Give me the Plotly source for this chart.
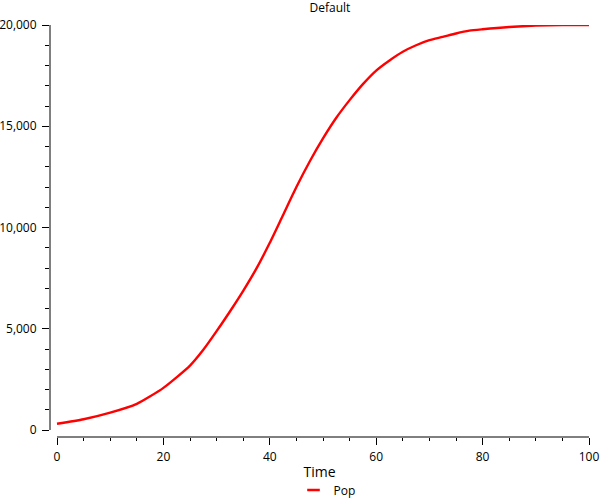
import plotly.graph_objects as go

time = [0, 5, 10, 15, 20, 25, 27.5, 30, 33, 35, 37.5, 40, 42.5, 45, 47.5, 50,
        52.5, 55, 57.5, 60, 62.5, 65, 67.5, 70, 72.5, 75, 77.5, 80, 85, 90, 95, 100]
pop = [310, 530, 855, 1290, 2080, 3180, 3960, 4880, 6050, 6870, 7980, 9245,
       10620, 12000, 13260, 14400, 15420, 16290, 17080, 17750, 18250, 18680,
       19000, 19250, 19410, 19580, 19720, 19790, 19900, 19970, 20000, 20000]

x_label_ticks = [0, 20, 40, 60, 80, 100]
y_ticks = [0, 5000, 10000, 15000, 20000]

FONT = "Open Sans"
W, H = 600, 500
ML, MR, MT, MB = 50, 11, 25, 63

# x range so that 0 sits 7px right of the plot's left edge
px_per_x = (W - ML - MR - 7) / 100.0
x_min = -7 / px_per_x
px_per_y = (H - MT - MB - 7) / 20000.0
y_min = -7 / px_per_y

fig = go.Figure()
fig.add_trace(go.Scatter(x=time, y=pop, mode="lines", name="Pop",
                         line=dict(color="#ff0000", width=2.4,
                                   shape="spline", smoothing=0.6),
                         showlegend=False, hoverinfo="x+y"))
fig.add_trace(go.Scatter(x=[None], y=[None], mode="markers", name="Pop",
                         marker=dict(symbol="line-ew", size=9,
                                     line=dict(color="#ff0000", width=2.4)),
                         showlegend=True))

fig.update_layout(
    width=W, height=H,
    margin=dict(l=ML, r=MR, t=MT, b=MB, autoexpand=False),
    paper_bgcolor="white", plot_bgcolor="white",
    font=dict(family=FONT, size=12, color="#000"),
    title=dict(text="Default", x=330 / W, xref="container", xanchor="center",
               y=1 - 8 / H, yref="container", yanchor="middle",
               font=dict(size=12)),
    showlegend=True,
    legend=dict(orientation="h", x=(330 - 3 - ML) / (W - ML - MR),
                xanchor="center",
                y=-(490 - (H - MB)) / (H - MT - MB), yanchor="middle",
                font=dict(size=12), itemwidth=30),
    xaxis=dict(range=[x_min, 100], showgrid=False, zeroline=False,
               showline=False, tickmode="array", tickvals=x_label_ticks,
               ticks="outside", ticklen=7, tickcolor="#000", tickwidth=1,
               minor=dict(dtick=5, tick0=0, ticks="outside", ticklen=3,
                          tickcolor="#000", tickwidth=1),
               title=dict(text="Time", standoff=2), ticklabelstandoff=2,
               automargin=False),
    xaxis2=dict(range=[x_min, 100], overlaying="x", anchor="y", side="bottom",
                showgrid=False, zeroline=False, showline=False,
                tickmode="linear", tick0=0, dtick=10, ticks="outside",
                ticklen=5, tickcolor="#000", tickwidth=1, showticklabels=False,
                automargin=False),
    yaxis=dict(range=[y_min, 20000], showgrid=False, zeroline=False,
               showline=False, tickmode="array", tickvals=y_ticks,
               tickformat=",", ticks="outside", ticklen=7, tickcolor="#000",
               tickwidth=1,
               minor=dict(dtick=1000, tick0=0, ticks="outside", ticklen=4,
                          tickcolor="#000", tickwidth=1),
               ticklabelstandoff=3, automargin=False),
)

# detached axis lines
fig.add_shape(type="line", xref="paper", x0=0, x1=0, yref="y", y0=0, y1=20000,
              line=dict(color="#000", width=1))
fig.add_shape(type="line", yref="paper", y0=0, y1=0, xref="x", x0=0, x1=100,
              line=dict(color="#000", width=1))

fig.write_html("out.html",
               config={"displayModeBar": False},
               post_script="document.body.style.margin='0';"
                           "document.body.style.padding='0';")
